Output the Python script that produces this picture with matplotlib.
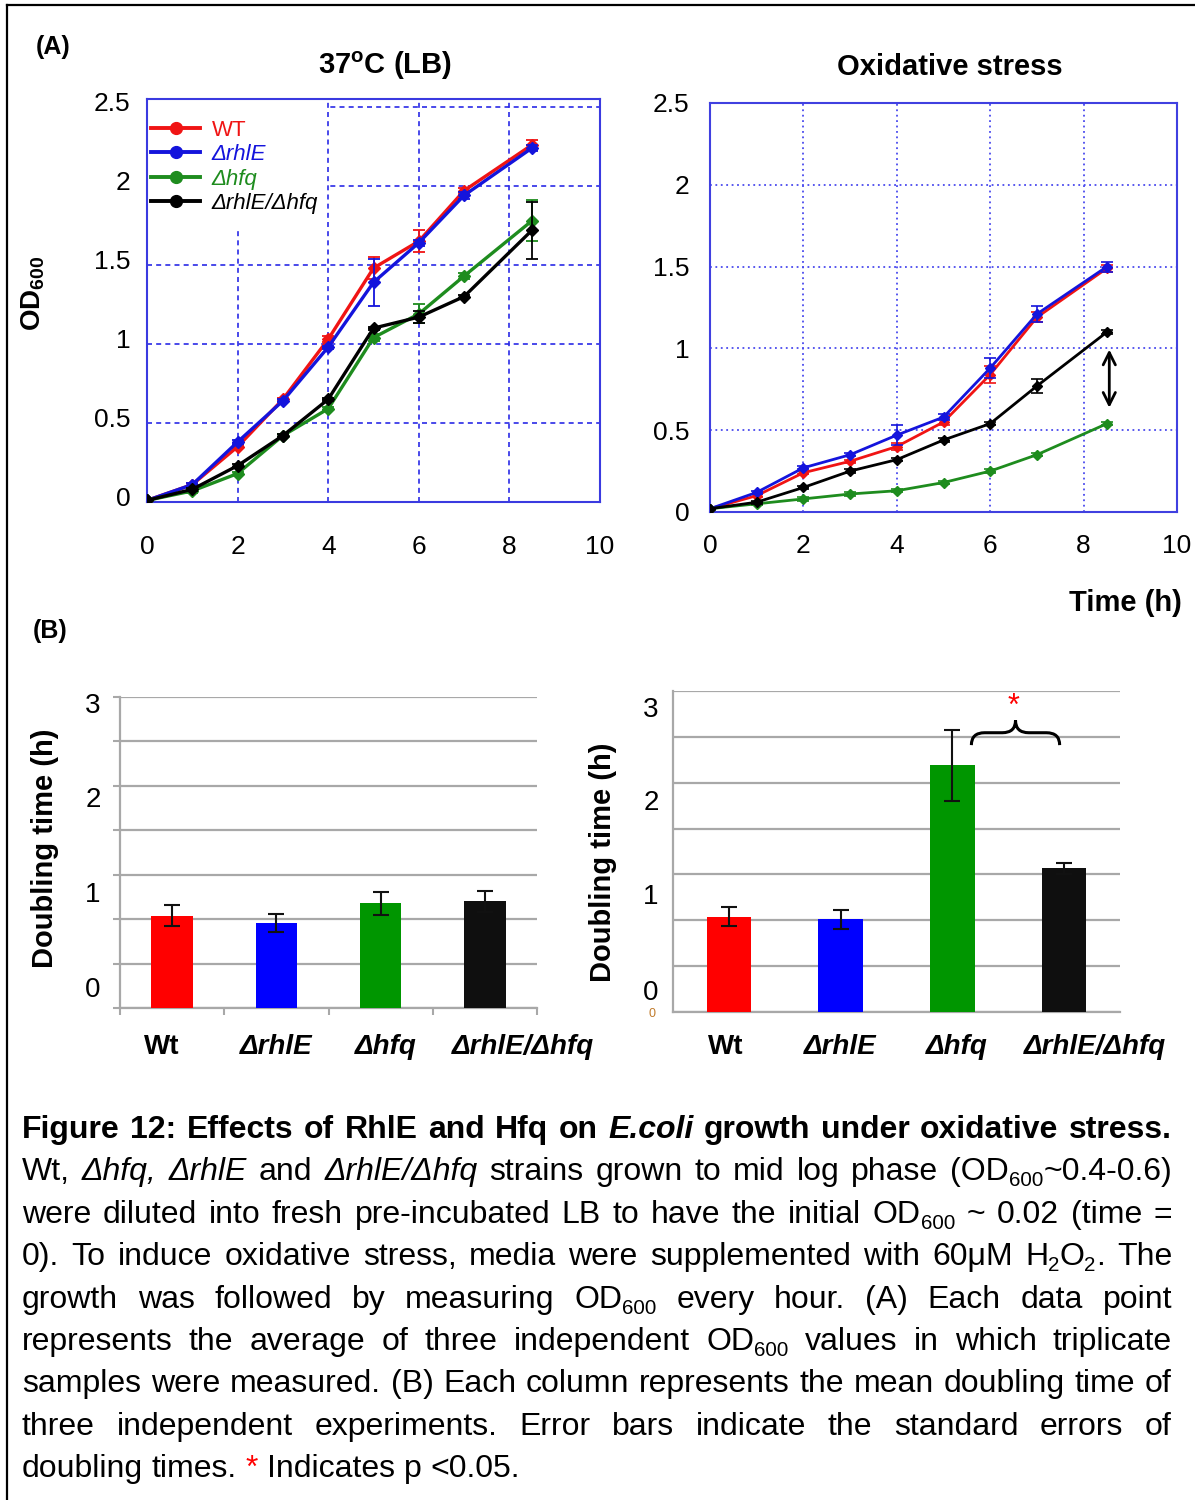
import re
import numpy as np
import matplotlib
matplotlib.use('Agg')
import matplotlib.pyplot as plt
import matplotlib.transforms as mtrans
from matplotlib.lines import Line2D
from matplotlib.patches import Rectangle, PathPatch
from matplotlib.path import Path

plt.rcParams['font.family'] = ['Liberation Sans', 'DejaVu Sans']
plt.rcParams['mathtext.fontset'] = 'custom'
plt.rcParams['mathtext.rm'] = 'Liberation Sans'
plt.rcParams['mathtext.it'] = 'Liberation Sans:italic'
plt.rcParams['mathtext.bf'] = 'Liberation Sans:bold'

W, H = 1195, 1500

# ---------------- data ----------------
hours = [0, 1, 2, 3, 4, 5, 6, 7, 8.5]
strains = ['WT', 'ΔrhlE', 'Δhfq', 'ΔrhlE/Δhfq']
line_colors = ['#f01414', '#1414dc', '#1e8c1e', '#000000']

# 37C (LB) growth curves
lb_wt   = [0.01, 0.11, 0.35, 0.65, 1.03, 1.48, 1.65, 1.97, 2.26]
lb_rhle = [0.01, 0.11, 0.38, 0.64, 0.98, 1.39, 1.64, 1.94, 2.24]
lb_hfq  = [0.01, 0.07, 0.18, 0.42, 0.59, 1.04, 1.19, 1.43, 1.78]
lb_dbl  = [0.01, 0.08, 0.23, 0.42, 0.65, 1.10, 1.17, 1.30, 1.72]
lb_wt_err   = [0, 0.01, 0.01, 0.01, 0.02, 0.07, 0.07, 0.02, 0.03]
lb_rhle_err = [0, 0.01, 0.01, 0.01, 0.01, 0.15, 0.02, 0.02, 0.02]
lb_hfq_err  = [0, 0.01, 0.01, 0.01, 0.01, 0.02, 0.06, 0.02, 0.13]
lb_dbl_err  = [0, 0.01, 0.01, 0.01, 0.01, 0.01, 0.04, 0.01, 0.18]

# oxidative stress growth curves
ox_wt   = [0.02, 0.10, 0.24, 0.31, 0.40, 0.55, 0.84, 1.19, 1.49]
ox_rhle = [0.02, 0.12, 0.27, 0.35, 0.47, 0.58, 0.88, 1.21, 1.50]
ox_hfq  = [0.02, 0.05, 0.08, 0.11, 0.13, 0.18, 0.25, 0.35, 0.54]
ox_dbl  = [0.02, 0.06, 0.15, 0.25, 0.32, 0.44, 0.54, 0.77, 1.10]
ox_wt_err   = [0, 0.01, 0.01, 0.01, 0.02, 0.02, 0.05, 0.03, 0.02]
ox_rhle_err = [0, 0.01, 0.01, 0.01, 0.06, 0.02, 0.06, 0.05, 0.03]
ox_hfq_err  = [0, 0.01, 0.01, 0.01, 0.01, 0.01, 0.01, 0.01, 0.01]
ox_dbl_err  = [0, 0.01, 0.01, 0.01, 0.01, 0.01, 0.01, 0.04, 0.01]

# doubling times
bar_labels = ['Wt', 'ΔrhlE', 'Δhfq', 'ΔrhlE/Δhfq']
bar_colors = ['#ff0000', '#0000ff', '#009600', '#0f0f0f']
dt_lb     = [1.04, 0.955, 1.18, 1.20]
dt_lb_err = [0.115, 0.105, 0.13, 0.115]
dt_ox     = [1.04, 1.01, 2.69, 1.57]
dt_ox_err = [0.105, 0.105, 0.39, 0.06]
yt_labels = ['0', '1', '2', '3']

caption = [
    "<b>Figure 12: Effects of RhlE and Hfq on <i>E.coli</i> growth under oxidative stress.</b>",
    "Wt, <i>Δhfq,</i> <i>ΔrhlE</i> and <i>ΔrhlE/Δhfq</i> strains grown to mid log phase (OD<s>600</s>~0.4-0.6)",
    "were diluted into fresh pre-incubated LB to have the initial OD<s>600</s> ~ 0.02 (time =",
    "0). To induce oxidative stress, media were supplemented with 60μM H<s>2</s>O<s>2</s>. The",
    "growth was followed by measuring OD<s>600</s> every hour. (A) Each data point",
    "represents the average of three independent OD<s>600</s> values in which triplicate",
    "samples were measured. (B) Each column represents the mean doubling time of",
    "three independent experiments. Error bars indicate the standard errors of",
    "doubling times. <r>*</r> Indicates p <0.05.",
]

fig = plt.figure(figsize=(W / 100, H / 100), dpi=100)
fig.patch.set_facecolor('white')


def px_axes(l, t, r, b):
    return fig.add_axes([l / W, 1 - b / H, (r - l) / W, (b - t) / H])


def fxy(x, y):
    return x / W, 1 - y / H


# ---------------- (A) left: 37C ----------------
ax1 = px_axes(147, 99, 600, 502)
order = [2, 3, 1, 0]
lb_vals = [lb_wt, lb_rhle, lb_hfq, lb_dbl]
lb_errs = [lb_wt_err, lb_rhle_err, lb_hfq_err, lb_dbl_err]
for k in order:
    ax1.errorbar(hours, lb_vals[k], yerr=lb_errs[k], color=line_colors[k], lw=2.4,
                 marker='D', ms=6, capsize=4, elinewidth=1.3, capthick=1.3, zorder=3 + k)
ax1.set_xlim(0, 10)
ax1.set_ylim(0, 2.55)
ax1.set_xticks([0, 2, 4, 6, 8, 10])
ax1.set_yticks([0, 0.5, 1, 1.5, 2, 2.5])
ax1.set_yticklabels(['0', '0.5', '1', '1.5', '2', '2.5'])
ax1.tick_params(axis='x', length=0, labelsize=19, pad=24)
ax1.tick_params(axis='y', length=0, labelsize=19, pad=12)
# tick labels sit a little above their grid lines in the original
up = mtrans.ScaledTranslation(0, 4 / 72, fig.dpi_scale_trans)
for t in ax1.get_yticklabels():
    t.set_transform(t.get_transform() + up)
ax1.grid(True, color='#2a2ae6', ls=(0, (3, 2.5)), lw=1.2)
for s in ax1.spines.values():
    s.set_color('#3a3ae0')
    s.set_linewidth(1.5)
# legend area hides the grid
ax1.add_patch(Rectangle((0, 0.672), 0.397, 0.33, transform=ax1.transAxes,
                        facecolor='white', edgecolor='none', zorder=1.7))
handles = [Line2D([], [], color=c, lw=2.8, marker='o', ms=8.5) for c in line_colors]
leg = ax1.legend(handles, strains, loc='upper left', bbox_to_anchor=(0.0, 0.96),
                 frameon=False, fontsize=16, handlelength=2.2, handletextpad=0.5,
                 labelspacing=0.16, borderpad=0, borderaxespad=0.2, labelcolor=line_colors)
for t in leg.get_texts()[1:]:
    t.set_fontstyle('italic')

# ---------------- (A) right: oxidative stress ----------------
ax2 = px_axes(710, 103, 1177, 512)
order = [2, 3, 0, 1]
ox_vals = [ox_wt, ox_rhle, ox_hfq, ox_dbl]
ox_errs = [ox_wt_err, ox_rhle_err, ox_hfq_err, ox_dbl_err]
for k in order:
    ax2.errorbar(hours, ox_vals[k], yerr=ox_errs[k], color=line_colors[k], lw=2.0,
                 marker='D', ms=5.5, capsize=4, elinewidth=1.2, capthick=1.2, zorder=3 + k)
ax2.set_xlim(0, 9.95)
ax2.set_ylim(0, 2.5)
ax2.set_xticks([0, 2, 4, 6, 8, 10])
ax2.set_yticks([0, 0.5, 1, 1.5, 2, 2.5])
ax2.set_yticklabels(['0', '0.5', '1', '1.5', '2', '2.5'])
ax2.tick_params(axis='x', length=0, labelsize=19, pad=16)
ax2.tick_params(axis='y', length=0, labelsize=19, pad=15)
ax2.grid(True, color='#4a4aee', ls=(0, (1, 2)), lw=1.3)
for s in ax2.spines.values():
    s.set_color('#4040e0')
    s.set_linewidth(1.5)
ax2.annotate('', xy=(8.55, 1.01), xytext=(8.55, 0.62),
             arrowprops=dict(arrowstyle='<->', color='black', lw=2, mutation_scale=22))

# ---------------- (B) bar charts ----------------
xpos = np.arange(len(bar_labels))
lbl_off_left = [-0.1, 0, 0.05, 0.37]
lbl_off_right = [-0.03, 0, 0.04, 0.28]


def bar_panel(ax, vals, errs, offs, lbl_y, yt_x, yt_fr, ticks=True):
    ax.bar(xpos, vals, width=0.4, color=bar_colors, zorder=3,
           yerr=errs, capsize=6, error_kw=dict(elinewidth=1.5, capthick=1.5, ecolor='#111111'))
    ax.set_xlim(-0.5, 3.5)
    ax.set_ylim(0, 3.5)
    ax.set_yticks(np.arange(0, 3.6, 0.5))
    ax.set_yticklabels([])
    ax.set_xticks(np.arange(-0.5, 3.6, 1.0))
    ax.set_xticklabels([])
    ax.yaxis.grid(True, color='#a8a8a8', lw=1.6)
    ax.set_axisbelow(True)
    for side in ['top', 'right']:
        ax.spines[side].set_visible(False)
    for side in ['left', 'bottom']:
        ax.spines[side].set_color('#a8a8a8')
        ax.spines[side].set_linewidth(1.6)
    if ticks:
        ax.tick_params(length=5, width=1.5, color='#a8a8a8')
    else:
        ax.tick_params(length=0)
    tr = mtrans.blended_transform_factory(ax.transData, ax.transAxes)
    for i, lab in enumerate(bar_labels):
        ax.text(xpos[i] + offs[i], lbl_y, lab, transform=tr, ha='center', va='center',
                fontsize=20, fontweight='bold', fontstyle='italic' if i else 'normal')
    for lab, fr in zip(yt_labels, yt_fr):
        ax.text(yt_x, fr, lab, transform=ax.transAxes, ha='center', va='center', fontsize=20)


ax3 = px_axes(120, 697, 537, 1008)
bar_panel(ax3, dt_lb, dt_lb_err, lbl_off_left, -0.125, -0.065, [0.058, 0.363, 0.669, 0.971])

ax4 = px_axes(673, 691, 1120, 1012)
bar_panel(ax4, dt_ox, dt_ox_err, lbl_off_right, -0.109, -0.049, [0.059, 0.358, 0.651, 0.941],
          ticks=False)
ax4.text(-0.047, -0.005, '0', transform=ax4.transAxes, ha='center', va='center',
         fontsize=9, color='#c07a2a')


def curly_brace(ax, x0, x1, y, h, **kw):
    w = x1 - x0
    xm = (x0 + x1) / 2
    q = 0.15 * w
    verts = [(x0, y), (x0, y + h / 2), (x0 + q, y + h / 2),
             (xm - q, y + h / 2), (xm, y + h / 2), (xm, y + h),
             (xm, y + h / 2), (xm + q, y + h / 2),
             (x1 - q, y + h / 2), (x1, y + h / 2), (x1, y)]
    codes = [Path.MOVETO, Path.CURVE3, Path.CURVE3,
             Path.LINETO, Path.CURVE3, Path.CURVE3,
             Path.CURVE3, Path.CURVE3,
             Path.LINETO, Path.CURVE3, Path.CURVE3]
    ax.add_patch(PathPatch(Path(verts, codes), fill=False, **kw))


curly_brace(ax4, 2.17, 2.96, 2.91, 0.27, lw=2.2, edgecolor='black', zorder=5, clip_on=False)
ax4.text(2.55, 3.33, '*', color='red', fontsize=22, ha='center', va='center')

# ---------------- figure texts ----------------
fig.text(*fxy(53, 47), '(A)', fontsize=18, fontweight='bold', ha='center', va='center')
fig.text(*fxy(50, 631), '(B)', fontsize=18, fontweight='bold', ha='center', va='center')
fig.text(*fxy(385, 66), r'37$^{\mathbf{o}}$C (LB)', fontsize=21, fontweight='bold',
         ha='center', va='center')
fig.text(*fxy(950, 67), 'Oxidative stress', fontsize=21, fontweight='bold',
         ha='center', va='center')
fig.text(*fxy(33, 293), r'OD$_{\mathbf{600}}$', fontsize=20, fontweight='bold',
         rotation=90, ha='center', va='center')
fig.text(*fxy(1125, 603), 'Time (h)', fontsize=21, fontweight='bold', ha='center', va='center')
fig.text(*fxy(45, 848), 'Doubling time (h)', fontsize=21, fontweight='bold',
         rotation=90, ha='center', va='center')
fig.text(*fxy(603, 862), 'Doubling time (h)', fontsize=21, fontweight='bold',
         rotation=90, ha='center', va='center')

# frame lines (left and top)
fig.add_artist(Line2D([7 / W, 7 / W], [0, 1 - 5 / H], transform=fig.transFigure, color='black', lw=1.6))
fig.add_artist(Line2D([7 / W, 1], [1 - 5 / H, 1 - 5 / H], transform=fig.transFigure, color='black', lw=1.6))

# ---------------- caption with justified lines ----------------
CAP_FS = 23
renderer = fig.canvas.get_renderer()


def parse(line):
    runs, style = [], set()
    for part in re.split(r'(</?[isrb]>)', line):
        if not part:
            continue
        m = re.fullmatch(r'<(/?)([isrb])>', part)
        if m:
            if m.group(1):
                style.discard(m.group(2))
            else:
                style.add(m.group(2))
        else:
            runs.append((part, frozenset(style)))
    words = [[]]
    for txt, st in runs:
        for k, p in enumerate(txt.split(' ')):
            if k > 0:
                words.append([])
            if p:
                words[-1].append((p, st))
    return [w for w in words if w]


def seg_kw(st):
    return dict(fontsize=CAP_FS * 0.64 if 's' in st else CAP_FS,
                fontstyle='italic' if 'i' in st else 'normal',
                fontweight='bold' if 'b' in st else 'normal',
                color='red' if 'r' in st else 'black')


def measure(txt, kw):
    t = fig.text(0, 0, txt, **kw)
    w = t.get_window_extent(renderer).width
    t.remove()
    return w


space_w = measure('a a', seg_kw(frozenset())) - measure('aa', seg_kw(frozenset()))
x_left, x_right = 22, 1172
for n, line in enumerate(caption):
    base = 1138 + 42.4 * n
    words = parse(line)
    widths = [[measure(t, seg_kw(st)) for t, st in w] for w in words]
    total = sum(sum(ws) for ws in widths)
    last = n == len(caption) - 1
    gap = space_w if last else (x_right - x_left - total) / (len(words) - 1)
    x = x_left
    for w, ws in zip(words, widths):
        for (t, st), sw in zip(w, ws):
            y = base + (6 if 's' in st else 0)
            fig.text(*fxy(x, y), t, ha='left', va='baseline', **seg_kw(st))
            x += sw
        x += gap

fig.savefig('out.png', dpi=100, facecolor='white')
